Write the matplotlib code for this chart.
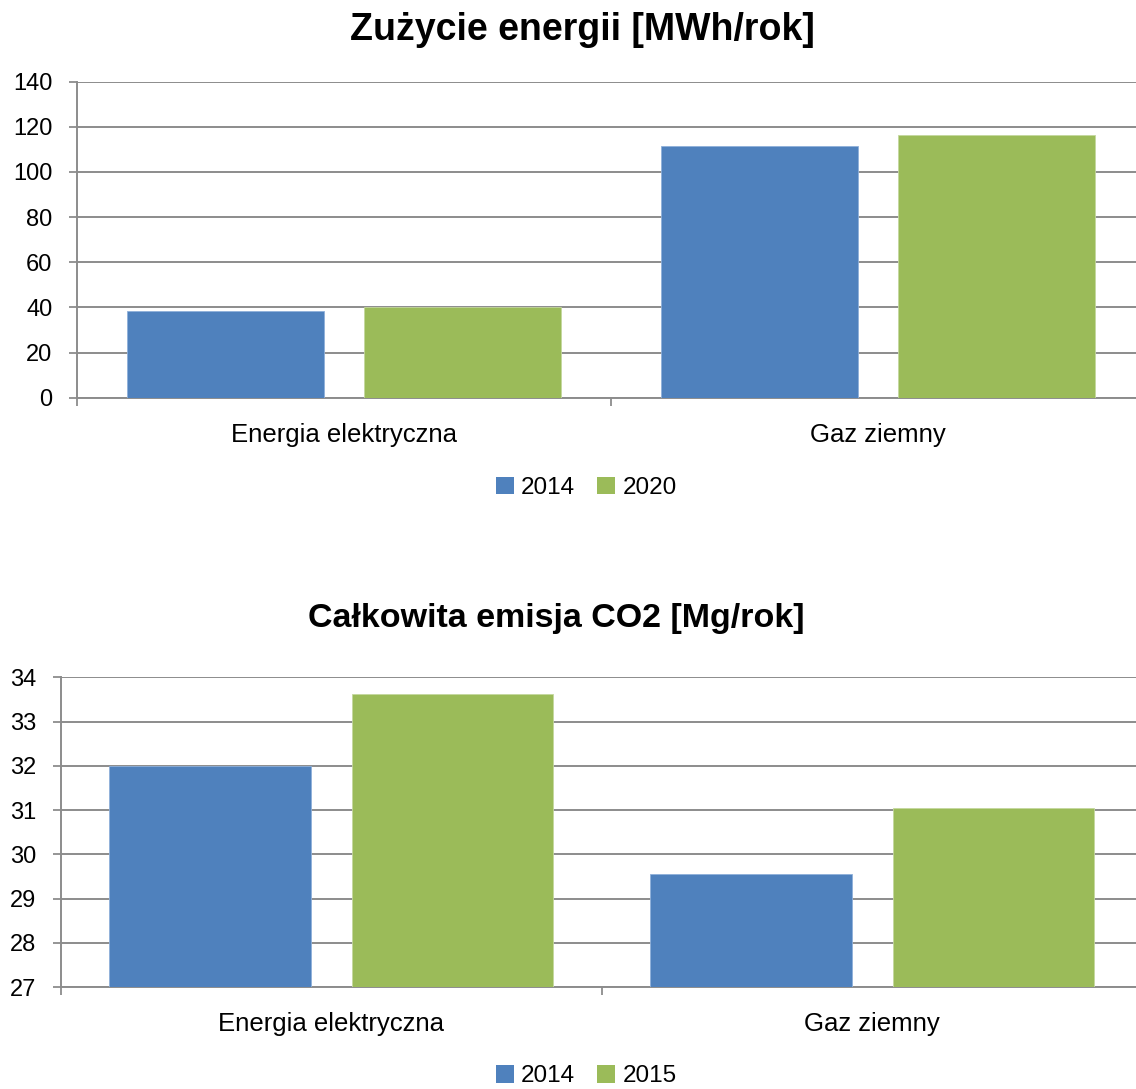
import numpy as np
import matplotlib
matplotlib.use("Agg")
import matplotlib.pyplot as plt
from matplotlib.patches import Patch

plt.rcParams["font.family"] = ["Liberation Sans", "DejaVu Sans"]

# data
categories = ["Energia elektryczna", "Gaz ziemny"]

energy_title = "Zużycie energii [MWh/rok]"
energy_years = ["2014", "2020"]
energy_2014 = [38.5, 111.3]
energy_2020 = [40.1, 116.4]
energy_ticks = [0, 20, 40, 60, 80, 100, 120, 140]

co2_title = "Całkowita emisja CO2 [Mg/rok]"
co2_years = ["2014", "2015"]
co2_2014 = [32.0, 29.56]
co2_2015 = [33.62, 31.04]
co2_ticks = [27, 28, 29, 30, 31, 32, 33, 34]

BLUE = "#4F81BD"
GREEN = "#9BBB59"
GRID = "#8C8C8C"
FS = 17


def draw_panel(fig, rect, s1, s2, ticks, years, title, title_xy, title_fs, legend_y, w):
    ax = fig.add_axes(rect)
    x = np.arange(len(categories))
    off = w / 2 + 0.0375
    ax.bar(x - off, s1, w, color=BLUE, edgecolor="#8FB0DA", linewidth=0.6, zorder=3)
    ax.bar(x + off, s2, w, color=GREEN, edgecolor="#C4D89E", linewidth=0.6, zorder=3)

    ax.set_xlim(-0.5, len(categories) - 0.5)
    ax.set_ylim(ticks[0], ticks[-1])
    ax.set_yticks(ticks)
    ax.set_xticks(x)
    ax.set_xticklabels(categories)
    ax.set_xticks(np.arange(len(categories) + 1) - 0.5, minor=True)
    ax.tick_params(axis="x", which="major", length=0, pad=18, labelsize=18.5)
    ax.tick_params(axis="x", which="minor", length=5.5, width=1.3, color=GRID, direction="out")
    ax.tick_params(axis="y", length=5.5, width=1.3, color=GRID, pad=12, labelsize=FS)

    ax.grid(axis="y", color=GRID, linewidth=1.4, zorder=0)
    for side in ["top", "right"]:
        ax.spines[side].set_visible(False)
    for side in ["left", "bottom"]:
        ax.spines[side].set_color(GRID)
        ax.spines[side].set_linewidth(1.4)

    fig.text(title_xy[0], title_xy[1], title, ha="center", va="center",
             fontsize=title_fs, fontweight="bold")

    handles = [Patch(facecolor=BLUE), Patch(facecolor=GREEN)]
    fig.legend(handles, years, loc="center", bbox_to_anchor=(0.516, legend_y),
               ncol=2, frameon=False, fontsize=17.5, handlelength=0.75,
               handleheight=0.75, handletextpad=0.3, columnspacing=0.9)
    return ax


fig = plt.figure(figsize=(11.36, 10.89), dpi=100)

draw_panel(fig, [0.0675, 0.6348, 0.9404, 0.2902], energy_2014, energy_2020,
           energy_ticks, energy_years, energy_title, (0.513, 0.9725), 27, 0.552, 0.369)
draw_panel(fig, [0.0534, 0.0934, 0.9527, 0.2847], co2_2014, co2_2015,
           co2_ticks, co2_years, co2_title, (0.4894, 0.4325), 24.5, 0.012, 0.373)

fig.savefig("out.png", dpi=100)
